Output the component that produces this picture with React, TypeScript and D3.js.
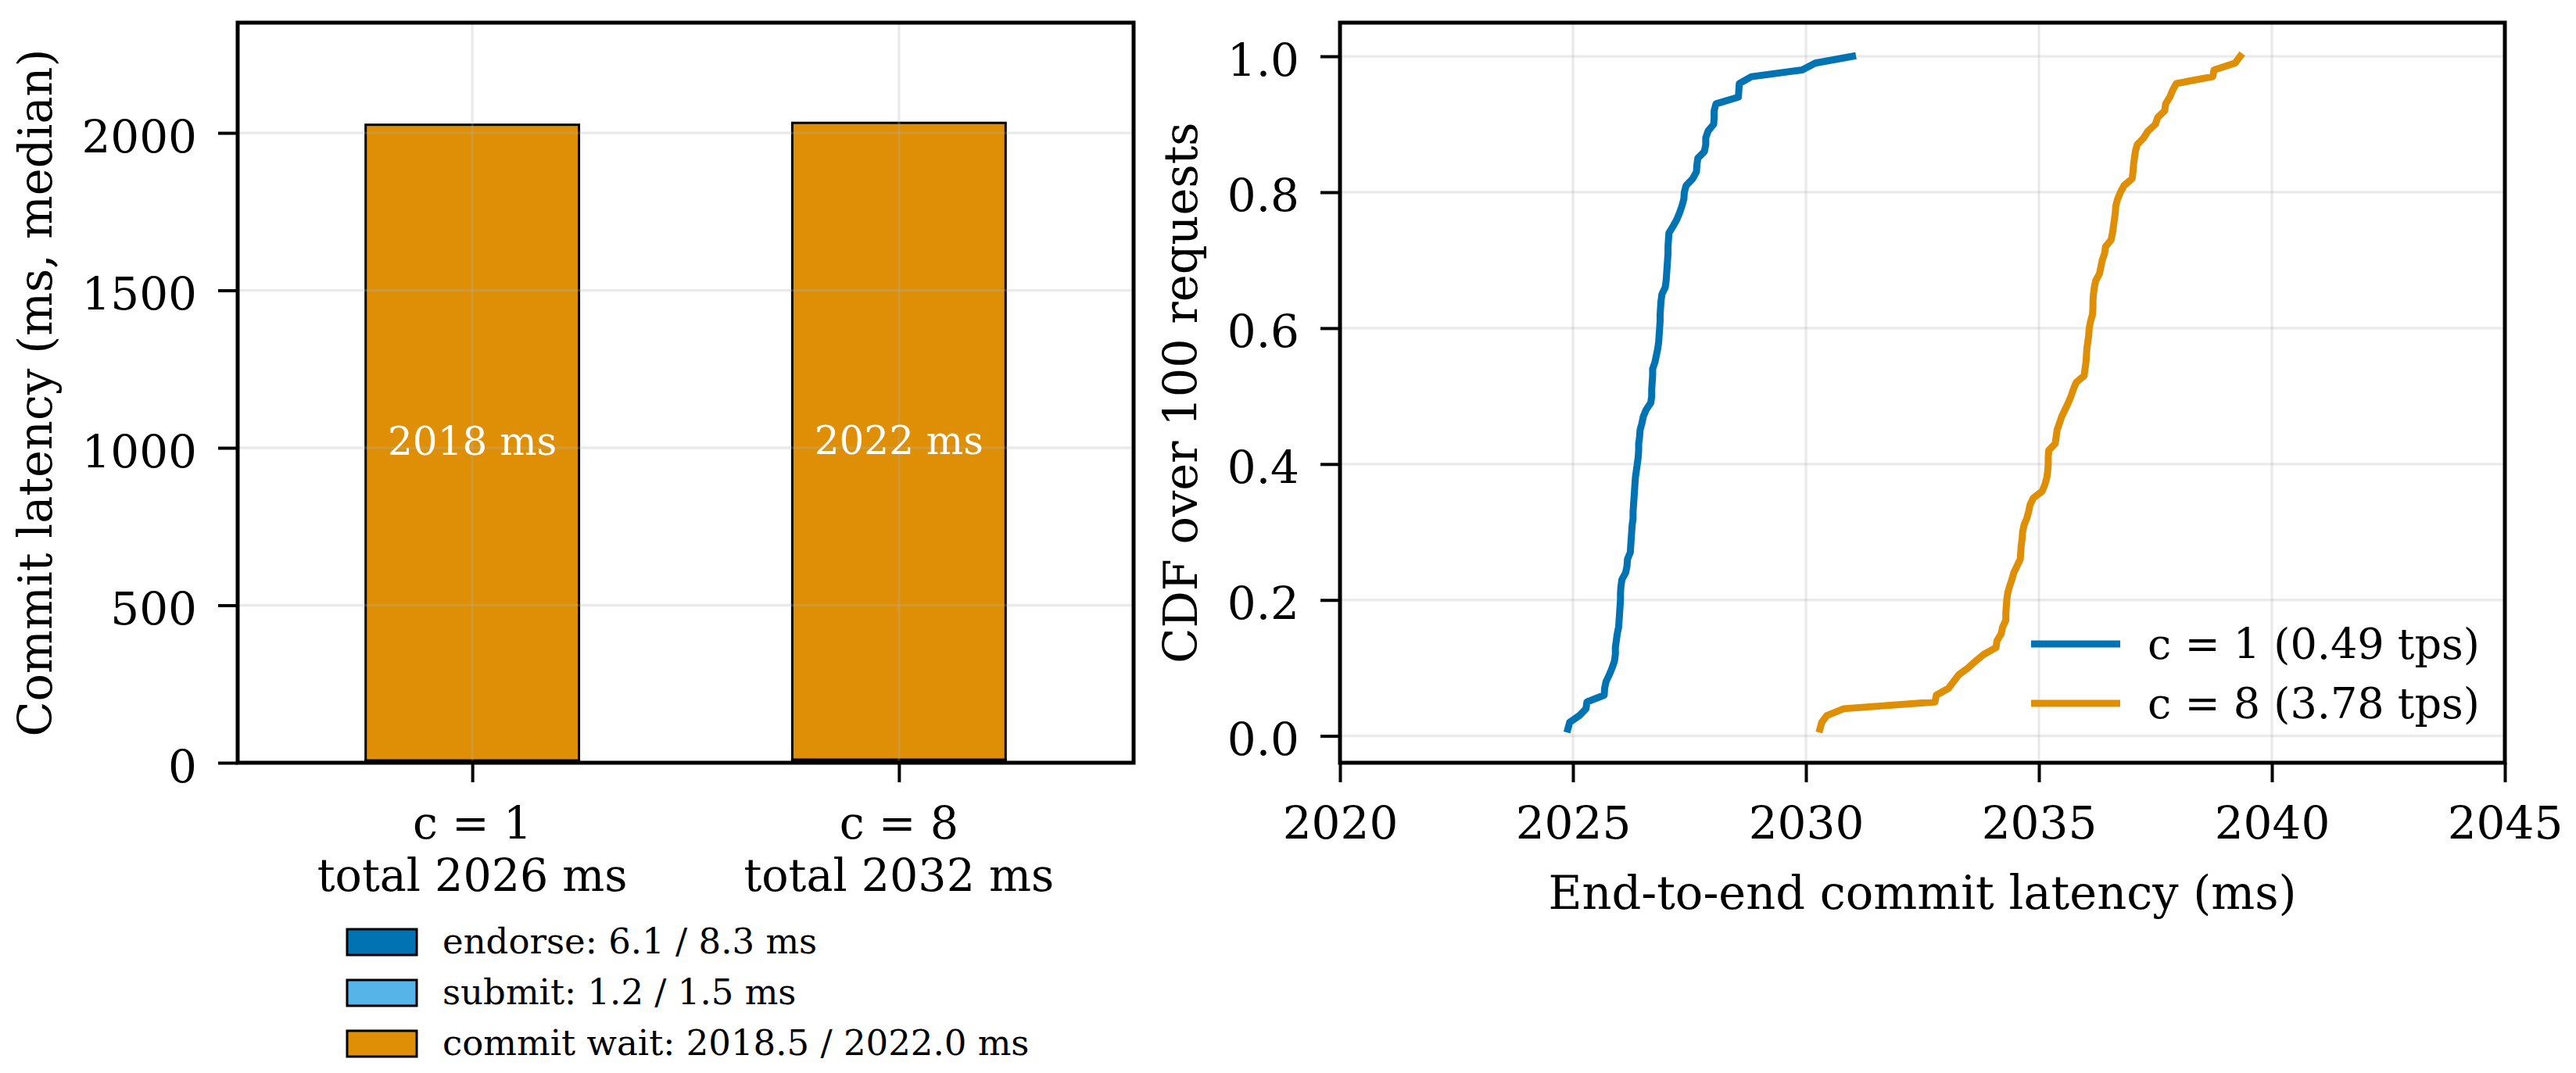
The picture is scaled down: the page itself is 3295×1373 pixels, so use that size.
import React, { useEffect, useRef } from 'react';
import * as d3 from 'd3';

// ---- left panel: median commit latency, stacked by stage
const categories = ['c = 1', 'c = 8'];
const totalLabels = ['total 2026 ms', 'total 2032 ms'];
const endorseMs = [6.1, 8.3];
const submitMs = [1.2, 1.5];
const commitWaitMs = [2018.5, 2022.0];
const commitLabels = ['2018 ms', '2022 ms'];
const stageLabels = ['endorse: 6.1 / 8.3 ms', 'submit: 1.2 / 1.5 ms', 'commit wait: 2018.5 / 2022.0 ms'];
const barYTicks = [0, 500, 1000, 1500, 2000];

// ---- right panel: sorted end-to-end latencies (100 requests each)
const latencyC1 = [
  2024.89, 2024.93, 2025.14, 2025.28, 2025.30, 2025.67, 2025.68, 2025.71, 2025.78, 2025.84,
  2025.89, 2025.91, 2025.91, 2025.93, 2025.95, 2025.98, 2025.99, 2026.00, 2026.01, 2026.02,
  2026.02, 2026.03, 2026.05, 2026.13, 2026.16, 2026.17, 2026.23, 2026.24, 2026.25, 2026.26,
  2026.27, 2026.29, 2026.29, 2026.30, 2026.31, 2026.32, 2026.33, 2026.34, 2026.36, 2026.38,
  2026.40, 2026.41, 2026.41, 2026.43, 2026.44, 2026.48, 2026.51, 2026.57, 2026.67, 2026.69,
  2026.69, 2026.70, 2026.71, 2026.71, 2026.76, 2026.79, 2026.82, 2026.84, 2026.85, 2026.86,
  2026.87, 2026.87, 2026.88, 2026.89, 2026.91, 2026.98, 2027.00, 2027.01, 2027.02, 2027.03,
  2027.04, 2027.04, 2027.05, 2027.06, 2027.15, 2027.23, 2027.29, 2027.34, 2027.38, 2027.39,
  2027.43, 2027.57, 2027.65, 2027.66, 2027.68, 2027.82, 2027.85, 2027.85, 2027.90, 2028.02,
  2028.03, 2028.03, 2028.07, 2028.55, 2028.56, 2028.57, 2028.83, 2029.92, 2030.20, 2031.00,
];
const latencyC8 = [
  2030.30, 2030.34, 2030.45, 2030.81, 2032.77, 2032.80, 2033.06, 2033.17, 2033.28, 2033.48,
  2033.64, 2033.82, 2034.08, 2034.10, 2034.19, 2034.22, 2034.29, 2034.29, 2034.30, 2034.31,
  2034.33, 2034.37, 2034.42, 2034.46, 2034.53, 2034.60, 2034.61, 2034.62, 2034.64, 2034.65,
  2034.68, 2034.74, 2034.78, 2034.81, 2034.88, 2035.07, 2035.13, 2035.17, 2035.19, 2035.20,
  2035.20, 2035.21, 2035.35, 2035.37, 2035.39, 2035.44, 2035.49, 2035.56, 2035.63, 2035.69,
  2035.74, 2035.80, 2035.97, 2035.99, 2036.01, 2036.02, 2036.03, 2036.05, 2036.07, 2036.08,
  2036.11, 2036.15, 2036.16, 2036.16, 2036.17, 2036.19, 2036.22, 2036.30, 2036.33, 2036.36,
  2036.41, 2036.43, 2036.55, 2036.58, 2036.60, 2036.62, 2036.64, 2036.65, 2036.69, 2036.75,
  2036.83, 2037.00, 2037.02, 2037.03, 2037.05, 2037.07, 2037.11, 2037.25, 2037.34, 2037.50,
  2037.55, 2037.70, 2037.72, 2037.81, 2037.87, 2037.95, 2038.73, 2038.76, 2039.21, 2039.32,
];
const seriesLabels = ['c = 1 (0.49 tps)', 'c = 8 (3.78 tps)'];
const cdfXTicks = [2020, 2025, 2030, 2035, 2040, 2045];
const cdfYTicks = [0, 0.2, 0.4, 0.6, 0.8, 1.0];

const BLUE = '#0173b2';
const LIGHT_BLUE = '#56b4e9';
const ORANGE = '#de8f05';
const FONT = 'DejaVu Serif';

const App: React.FC = () => {
  const svgRef = useRef<SVGSVGElement | null>(null);

  useEffect(() => {
    const svg = d3.select(svgRef.current);
    svg.selectAll('*').remove();

    const styleAxis = (g: any) => {
      g.select('.domain').remove();
      g.attr('font-family', FONT).attr('font-size', 58);
      g.selectAll('.tick line').attr('stroke', '#000').attr('stroke-width', 4);
      g.selectAll('.tick text').attr('fill', '#000');
    };
    const grid = (g: any, x1: number, y1: number, x2: number, y2: number) =>
      g.append('line')
        .attr('x1', x1).attr('x2', x2).attr('y1', y1).attr('y2', y2)
        .attr('stroke', '#b0b0b0').attr('stroke-opacity', 0.27).attr('stroke-width', 3.3);

    // ================= left: stacked bars =================
    const L = { left: 304, right: 1450, top: 29, bottom: 976 };
    const xb = d3.scaleLinear().domain([-0.55, 1.55]).range([L.left, L.right]);
    const yb = d3.scaleLinear().domain([0, 2350]).range([L.bottom, L.top]);

    const rows = categories.map((c, i) => ({
      idx: i, endorse: endorseMs[i], submit: submitMs[i], commit: commitWaitMs[i],
    }));
    const layers = d3.stack<any>().keys(['endorse', 'submit', 'commit'])(rows);
    const stageColors = [BLUE, LIGHT_BLUE, ORANGE];
    const barW = 0.5;

    const left = svg.append('g');
    layers.forEach((layer, k) => {
      left.selectAll(null)
        .data(layer)
        .enter()
        .append('rect')
        .attr('x', (d: any) => xb(d.data.idx - barW / 2))
        .attr('width', xb(barW) - xb(0))
        .attr('y', (d: any) => yb(d[1]))
        .attr('height', (d: any) => yb(d[0]) - yb(d[1]))
        .attr('fill', stageColors[k])
        .attr('stroke', '#000')
        .attr('stroke-width', 3);
    });

    // grid sits above patches, like matplotlib's default
    barYTicks.forEach(t => grid(left, L.left, yb(t), L.right, yb(t)));
    categories.forEach((c, i) => grid(left, xb(i), L.top, xb(i), L.bottom));

    const commitLayer = layers[2];
    left.selectAll('.bar-label')
      .data(commitLayer)
      .enter()
      .append('text')
      .attr('class', 'bar-label')
      .attr('x', (d: any) => xb(d.data.idx))
      .attr('y', (d: any) => yb((d[0] + d[1]) / 2))
      .attr('dy', '0.32em')
      .attr('text-anchor', 'middle')
      .attr('font-family', FONT)
      .attr('font-size', 50)
      .attr('fill', '#fff')
      .text((d: any, i: number) => commitLabels[i]);

    left.append('rect')
      .attr('x', L.left).attr('y', L.top)
      .attr('width', L.right - L.left).attr('height', L.bottom - L.top)
      .attr('fill', 'none').attr('stroke', '#000').attr('stroke-width', 5);

    left.append('g')
      .attr('transform', `translate(${L.left},0)`)
      .call(d3.axisLeft(yb).tickValues(barYTicks).tickSize(25).tickPadding(27).tickFormat(d3.format('d')))
      .call(styleAxis)
      .selectAll('.tick text').attr('dy', 24);

    left.append('g')
      .attr('transform', `translate(0,${L.bottom})`)
      .call(d3.axisBottom(xb).tickValues([0, 1]).tickSize(25).tickFormat(() => ''))
      .call(styleAxis);

    const catText = left.selectAll('.cat-label')
      .data(categories)
      .enter()
      .append('text')
      .attr('class', 'cat-label')
      .attr('text-anchor', 'middle')
      .attr('font-family', FONT)
      .attr('font-size', 57)
      .attr('fill', '#000');
    catText.append('tspan')
      .attr('x', (d, i) => xb(i)).attr('y', 1073)
      .text(d => d);
    catText.append('tspan')
      .attr('x', (d, i) => xb(i)).attr('y', 1140)
      .text((d, i) => totalLabels[i]);

    left.append('text')
      .attr('transform', `translate(66,${(L.top + L.bottom) / 2}) rotate(-90)`)
      .attr('text-anchor', 'middle')
      .attr('font-family', FONT)
      .attr('font-size', 59)
      .text('Commit latency (ms, median)');

    // legend under the bars
    const legL = left.append('g');
    stageLabels.forEach((label, k) => {
      const top = 1189 + k * 65;
      legL.append('rect')
        .attr('x', 444).attr('y', top)
        .attr('width', 89).attr('height', 33)
        .attr('fill', stageColors[k]).attr('stroke', '#000').attr('stroke-width', 3);
      legL.append('text')
        .attr('x', 566).attr('y', top + 31)
        .attr('font-family', FONT)
        .attr('font-size', 45)
        .text(label);
    });

    // ================= right: CDF =================
    const R = { left: 1714, right: 3204, top: 29, bottom: 976 };
    const xc = d3.scaleLinear().domain([2020, 2045]).range([R.left, R.right]);
    const yc = d3.scaleLinear().domain([-0.0395, 1.0495]).range([R.bottom, R.top]);

    const right = svg.append('g');
    cdfYTicks.forEach(t => grid(right, R.left, yc(t), R.right, yc(t)));
    cdfXTicks.forEach(t => grid(right, xc(t), R.top, xc(t), R.bottom));

    const line = d3.line<number>()
      .x(d => xc(d))
      .y((d, i) => yc((i + 1) / 100));

    [latencyC1, latencyC8].forEach((series, k) => {
      right.append('path')
        .datum(series)
        .attr('d', line)
        .attr('fill', 'none')
        .attr('stroke', k === 0 ? BLUE : ORANGE)
        .attr('stroke-width', 9)
        .attr('stroke-linejoin', 'round')
        .attr('stroke-linecap', 'square');
    });

    right.append('rect')
      .attr('x', R.left).attr('y', R.top)
      .attr('width', R.right - R.left).attr('height', R.bottom - R.top)
      .attr('fill', 'none').attr('stroke', '#000').attr('stroke-width', 5);

    right.append('g')
      .attr('transform', `translate(${R.left},0)`)
      .call(d3.axisLeft(yc).tickValues(cdfYTicks).tickSize(25).tickPadding(27).tickFormat(d3.format('.1f')))
      .call(styleAxis)
      .selectAll('.tick text').attr('dy', 24);

    right.append('g')
      .attr('transform', `translate(0,${R.bottom})`)
      .call(d3.axisBottom(xc).tickValues(cdfXTicks).tickSize(25).tickFormat(d3.format('d')))
      .call(styleAxis)
      .selectAll('.tick text').attr('y', 97).attr('dy', 0);

    right.append('text')
      .attr('x', (R.left + R.right) / 2).attr('y', 1163)
      .attr('text-anchor', 'middle')
      .attr('font-family', FONT)
      .attr('font-size', 59)
      .text('End-to-end commit latency (ms)');

    right.append('text')
      .attr('transform', `translate(1531,${(R.top + R.bottom) / 2}) rotate(-90)`)
      .attr('text-anchor', 'middle')
      .attr('font-family', FONT)
      .attr('font-size', 59)
      .text('CDF over 100 requests');

    seriesLabels.forEach((label, k) => {
      const base = 843 + k * 76;
      right.append('line')
        .attr('x1', 2598).attr('x2', 2712)
        .attr('y1', base - 19).attr('y2', base - 19)
        .attr('stroke', k === 0 ? BLUE : ORANGE)
        .attr('stroke-width', 9);
      right.append('text')
        .attr('x', 2747).attr('y', base)
        .attr('font-family', FONT)
        .attr('font-size', 54)
        .text(label);
    });
  }, []);

  return (
    <svg
      ref={svgRef}
      width={3295}
      height={1373}
      style={{ position: 'absolute', left: 0, top: 0, background: '#fff', display: 'block' }}
    />
  );
};

export default App;
